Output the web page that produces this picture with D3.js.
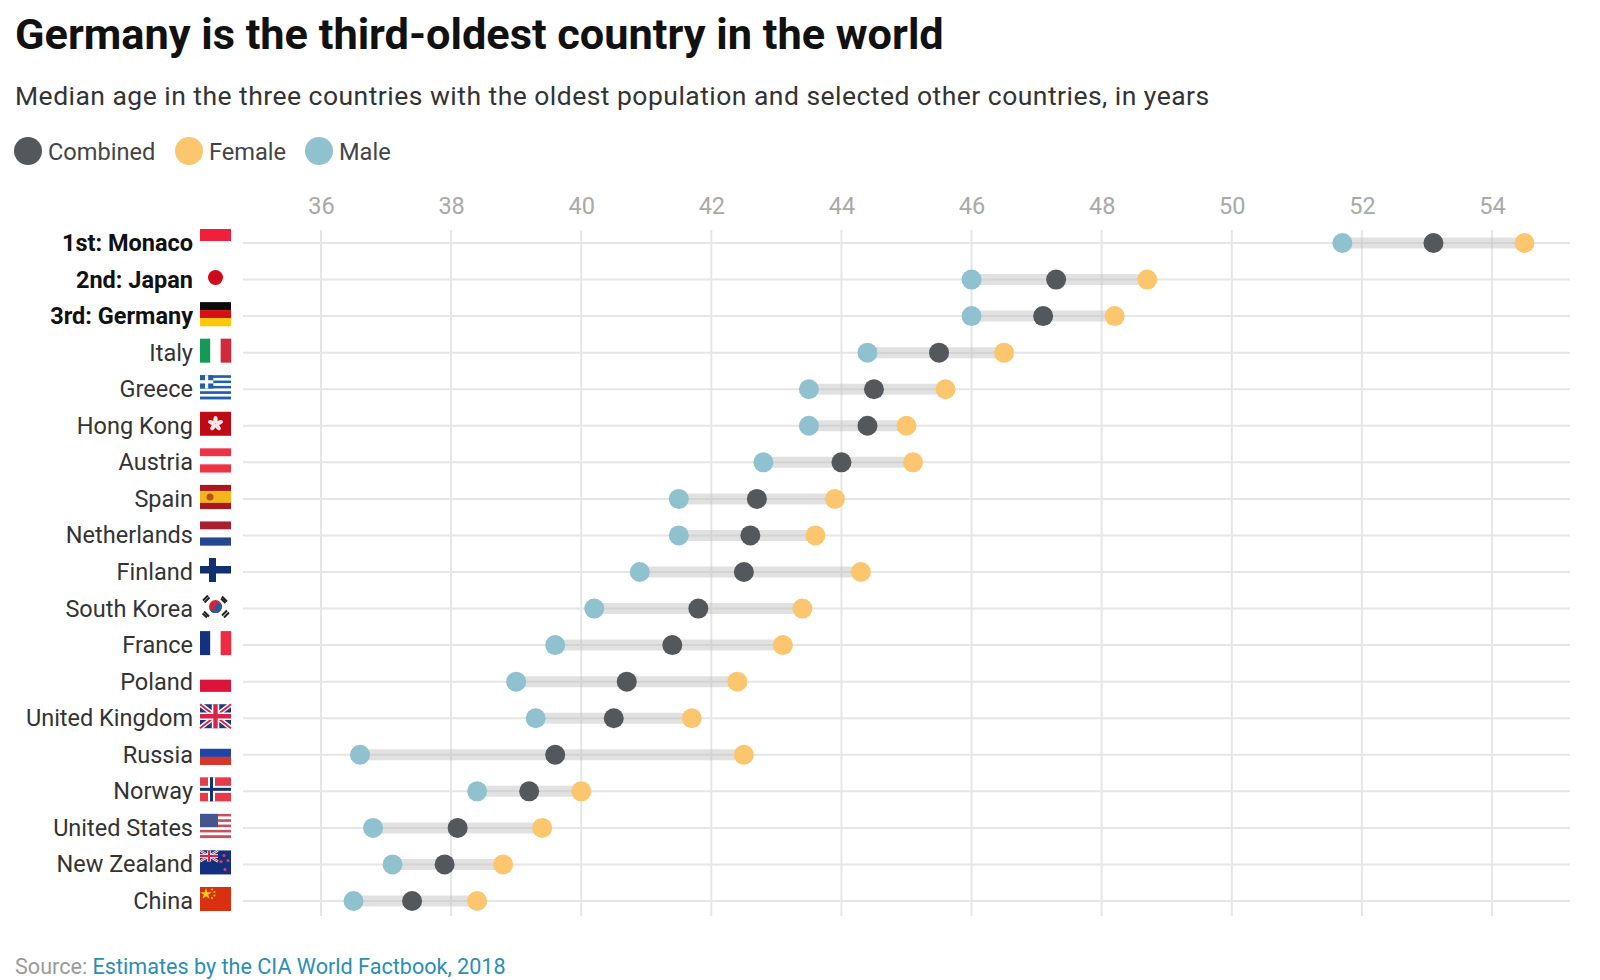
<!DOCTYPE html>
<html>
<head>
<meta charset="utf-8">
<title>Median age</title>
<script src="https://cdn.jsdelivr.net/npm/d3@7"></script>
<style>
  html, body { margin: 0; padding: 0; background: #fff; }
  text { font-family: Roboto, sans-serif; }
</style>
</head>
<body>
<div id="chart"></div>
<script>
// ----------------
// data
// ----------------
const countries = ["1st: Monaco", "2nd: Japan", "3rd: Germany", "Italy", "Greece", "Hong Kong", "Austria", "Spain", "Netherlands", "Finland", "South Korea", "France", "Poland", "United Kingdom", "Russia", "Norway", "United States", "New Zealand", "China"];
const male =     [51.7, 46.0, 46.0, 44.4, 43.5, 43.5, 42.8, 41.5, 41.5, 40.9, 40.2, 39.6, 39.0, 39.3, 36.6, 38.4, 36.8, 37.1, 36.5];
const combined = [53.1, 47.3, 47.1, 45.5, 44.5, 44.4, 44.0, 42.7, 42.6, 42.5, 41.8, 41.4, 40.7, 40.5, 39.6, 39.2, 38.1, 37.9, 37.4];
const female =   [54.5, 48.7, 48.2, 46.5, 45.6, 45.0, 45.1, 43.9, 43.6, 44.3, 43.4, 43.1, 42.4, 41.7, 42.5, 40.0, 39.4, 38.8, 38.4];
const xTicks = [36, 38, 40, 42, 44, 46, 48, 50, 52, 54];
const legendItems = ["Combined", "Female", "Male"];

const colorCombined = "#54575c", colorFemale = "#fcc66f", colorMale = "#8fc1cf";

// set the dimensions of the graph
const width = 1600, height = 980;
const svg = d3.select("#chart").append("svg")
    .attr("width", width)
    .attr("height", height)
    .style("display", "block");

// title block
svg.append("text").attr("x", 15).attr("y", 49)
    .attr("font-size", 43.3).attr("font-weight", 700).attr("fill", "#111")
    .text("Germany is the third-oldest country in the world");
svg.append("text").attr("x", 15).attr("y", 105)
    .attr("font-size", 26.5).attr("letter-spacing", 0.47).attr("fill", "#333")
    .text("Median age in the three countries with the oldest population and selected other countries, in years");

// legend
const legendX = [28, 189, 319];
const legendColor = d3.scaleOrdinal().domain(legendItems).range([colorCombined, colorFemale, colorMale]);
const legend = svg.append("g").selectAll("g")
    .data(legendItems)
    .join("g")
    .attr("transform", (d, i) => `translate(${legendX[i]},151)`);
legend.append("circle").attr("r", 14).attr("fill", d => legendColor(d));
legend.append("text").attr("x", 20).attr("y", 8.5)
    .attr("font-size", 23.6).attr("fill", "#444").text(d => d);

// scales
const x = d3.scaleLinear().domain([36, 54]).range([321, 1492]);
const y = d3.scalePoint().domain(countries).range([243, 901]);

// vertical grid + top labels
const xAxis = svg.append("g")
    .attr("transform", "translate(0,230)")
    .call(d3.axisTop(x).tickValues(xTicks).tickSize(0).tickPadding(16));
xAxis.select(".domain").remove();
xAxis.selectAll("text").attr("font-size", 23.5).attr("fill", "#a9a9a9").style("font-family", "Roboto, sans-serif");
svg.append("g").selectAll("line")
    .data(xTicks)
    .join("line")
    .attr("x1", d => x(d)).attr("x2", d => x(d))
    .attr("y1", 230).attr("y2", 916)
    .attr("stroke", "#e6e6e6").attr("stroke-width", 2);

// horizontal grid
svg.append("g").selectAll("line")
    .data(countries)
    .join("line")
    .attr("x1", 243).attr("x2", 1570)
    .attr("y1", d => y(d)).attr("y2", d => y(d))
    .attr("stroke", "#e6e6e6").attr("stroke-width", 2);

// country labels
const yAxis = svg.append("g")
    .attr("transform", "translate(193,0)")
    .call(d3.axisLeft(y).tickSize(0).tickPadding(0));
yAxis.select(".domain").remove();
yAxis.selectAll("text")
    .attr("font-size", 23.5)
    .attr("fill", (d, i) => i < 3 ? "#111" : "#333")
    .attr("font-weight", (d, i) => i < 3 ? 700 : 400)
    .style("font-family", "Roboto, sans-serif");

// range bands
svg.append("g").selectAll("line")
    .data(countries)
    .join("line")
    .attr("x1", (d, i) => x(male[i])).attr("x2", (d, i) => x(female[i]))
    .attr("y1", d => y(d)).attr("y2", d => y(d))
    .attr("stroke", "#bdbdbd").attr("stroke-opacity", 0.45).attr("stroke-width", 11);

// dots
function addDots(values, color) {
    svg.append("g").selectAll("circle")
        .data(countries)
        .join("circle")
        .attr("cx", (d, i) => x(values[i]))
        .attr("cy", d => y(d))
        .attr("r", 10)
        .attr("fill", color);
}
addDots(male, colorMale);
addDots(female, colorFemale);
addDots(combined, colorCombined);

// ----------------
// flags, each in a local 31x24 box
// ----------------
function bars(g, colors, vertical) {
    const w = vertical ? 31 / colors.length : 31, h = vertical ? 24 : 24 / colors.length;
    colors.forEach((c, i) => {
        g.append("rect")
            .attr("x", vertical ? i * w : 0).attr("y", vertical ? 0 : i * h)
            .attr("width", w + (vertical ? 0.2 : 0)).attr("height", h + (vertical ? 0 : 0.2))
            .attr("fill", c);
    });
}
function rect(g, x0, y0, w, h, c) {
    g.append("rect").attr("x", x0).attr("y", y0).attr("width", w).attr("height", h).attr("fill", c);
}
function path(g, d, stroke, sw, fill) {
    return g.append("path").attr("d", d).attr("stroke", stroke || "none").attr("stroke-width", sw || 0).attr("fill", fill || "none");
}
function unionJack(g, w, h) {
    rect(g, 0, 0, w, h, "#1f3a7a");
    path(g, `M0,0L${w},${h}M${w},0L0,${h}`, "#fff", h / 5);
    path(g, `M0,0L${w},${h}M${w},0L0,${h}`, "#d8234a", h / 12);
    path(g, `M${w / 2},0V${h}M0,${h / 2}H${w}`, "#fff", h / 3.2);
    path(g, `M${w / 2},0V${h}M0,${h / 2}H${w}`, "#d8234a", h / 5.5);
}
const flags = {
    "1st: Monaco": g => bars(g, ["#f0203c", "#fff"]),
    "2nd: Japan": g => g.append("circle").attr("cx", 15.5).attr("cy", 12).attr("r", 7.5).attr("fill", "#cf0a1a"),
    "3rd: Germany": g => bars(g, ["#0b0b0b", "#d60f12", "#fdc80a"]),
    "Italy": g => bars(g, ["#149a54", "#fff", "#cf2b3c"], true),
    "Greece": g => {
        bars(g, ["#1f5fae", "#fff", "#1f5fae", "#fff", "#1f5fae", "#fff", "#1f5fae", "#fff", "#1f5fae"]);
        rect(g, 0, 0, 13.3, 13.3, "#1f5fae");
        rect(g, 5, 0, 3.2, 13.3, "#fff");
        rect(g, 0, 5, 13.3, 3.2, "#fff");
    },
    "Hong Kong": g => {
        rect(g, 0, 0, 31, 24, "#bf0a14");
        g.selectAll("ellipse").data([0, 72, 144, 216, 288]).join("ellipse")
            .attr("cx", 15.5).attr("cy", 8).attr("rx", 2.2).attr("ry", 3.8)
            .attr("fill", "#fbe6e6").attr("transform", d => `rotate(${d},15.5,12)`);
    },
    "Austria": g => bars(g, ["#ee3344", "#fff", "#ee3344"]),
    "Spain": g => {
        bars(g, ["#a8171c", "#f4b51c", "#f4b51c", "#a8171c"]);
        g.append("circle").attr("cx", 10).attr("cy", 12).attr("r", 3.5).attr("fill", "#b5521e");
    },
    "Netherlands": g => bars(g, ["#a91f32", "#fff", "#23478f"]),
    "Finland": g => {
        rect(g, 0, 8, 31, 7.5, "#10306f");
        rect(g, 9, 0, 7, 24, "#10306f");
    },
    "South Korea": g => {
        g.append("circle").attr("cx", 15.5).attr("cy", 12).attr("r", 6.5).attr("fill", "#d0263a");
        path(g, "M9,12A3.25,3.25 0 0 0 15.5,12A3.25,3.25 0 0 1 22,12A6.5,6.5 0 0 1 9,12Z", null, 0, "#2a5ba0");
        path(g, "M3,6L8,1M4.5,8L9.5,3M22,2L27,7M21,4L25.5,8.5M4,17L9,22M2.5,19L7,23M22,21L27,16M24,23L29,18", "#222", 2);
    },
    "France": g => bars(g, ["#13317e", "#fff", "#ee2b41"], true),
    "Poland": g => bars(g, ["#fff", "#dc143c"]),
    "United Kingdom": g => unionJack(g, 31, 24),
    "Russia": g => bars(g, ["#fff", "#1c46a8", "#d5352a"]),
    "Norway": g => {
        rect(g, 0, 0, 31, 24, "#e63a48");
        rect(g, 8, 0, 7, 24, "#fff");
        rect(g, 0, 8.5, 31, 7, "#fff");
        rect(g, 10, 0, 3, 24, "#14306f");
        rect(g, 0, 10.5, 31, 3, "#14306f");
    },
    "United States": g => {
        bars(g, ["#c8505e", "#fff", "#c8505e", "#fff", "#c8505e", "#fff", "#c8505e", "#fff", "#c8505e"]);
        rect(g, 0, 0, 18, 13.3, "#45558f");
    },
    "New Zealand": g => {
        rect(g, 0, 0, 31, 24, "#12307f");
        unionJack(g, 18, 11);
        [[24, 5], [28, 10], [21, 11], [25, 19]].forEach(s =>
            g.append("circle").attr("cx", s[0]).attr("cy", s[1]).attr("r", 1.5).attr("fill", "#e0405a"));
    },
    "China": g => {
        rect(g, 0, 0, 31, 24, "#d9300f");
        path(g, d3.symbol(d3.symbolStar, 40)(), null, 0, "#fcd116").attr("transform", "translate(6,7)");
        [[12, 2.5], [14.5, 5], [14.5, 8.5], [12, 11]].forEach(s =>
            g.append("circle").attr("cx", s[0]).attr("cy", s[1]).attr("r", 1).attr("fill", "#fcd116"));
    }
};
svg.append("g").selectAll("g")
    .data(countries)
    .join("g")
    .attr("transform", d => `translate(200,${y(d) - 14})`)
    .each(function(d) { flags[d](d3.select(this)); });

// source line
const source = svg.append("text").attr("x", 15).attr("y", 974)
    .attr("font-size", 21.6).attr("fill", "#9a9a9a");
source.append("tspan").text("Source: ");
source.append("tspan").attr("fill", "#2a8fb3").text("Estimates by the CIA World Factbook, 2018");
</script>
</body>
</html>
